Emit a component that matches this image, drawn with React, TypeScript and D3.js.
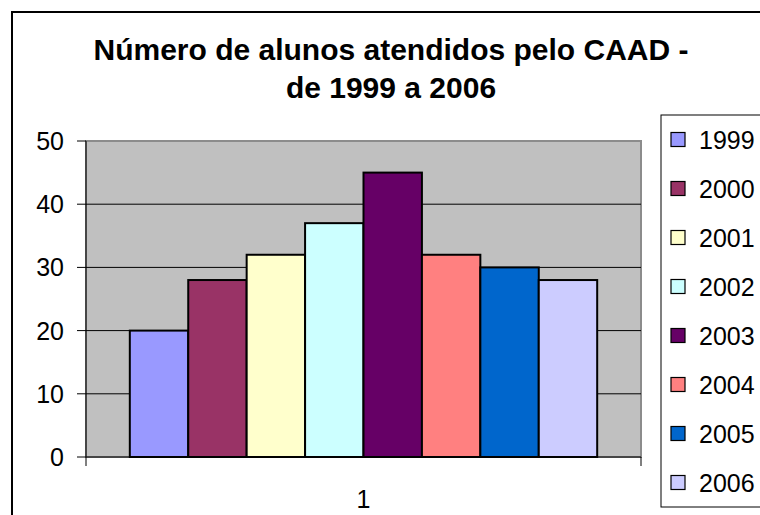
import * as d3 from 'd3'

// data
const categories = ['1']
const years = ['1999', '2000', '2001', '2002', '2003', '2004', '2005', '2006']
const students = [20, 28, 32, 37, 45, 32, 30, 28]
const colors = ['#9999FF', '#993366', '#FFFFCC', '#CCFFFF', '#660066', '#FF8080', '#0066CC', '#CCCCFF']
const yTicks = [0, 10, 20, 30, 40, 50]
const titleLines = ['Número de alunos atendidos pelo CAAD -', 'de 1999 a 2006']

const font = 'Arial, "Liberation Sans", sans-serif'

export default function App() {
  const width = 760,
    height = 515

  // plot area
  const plot = { left: 86, top: 141, right: 641, bottom: 457 }

  const y = d3.scaleLinear().domain([0, 50]).range([plot.bottom, plot.top])

  // excel style gap width of 150% -> 0.75 bar on each side
  const x0 = d3.scaleBand()
    .domain(categories)
    .range([plot.left, plot.right])
    .paddingInner(0)
    .paddingOuter(0.75 / years.length)

  const x1 = d3.scaleBand()
    .domain(years)
    .range([0, x0.bandwidth()])
    .padding(0)

  // legend rows
  const legend = d3.scaleBand().domain(years).range([115, 507])

  return (
    <svg width={width} height={height} style={{ position: 'absolute', left: 0, top: 0, background: '#fff' }}
      fontFamily={font}>
      {/* chart frame, cut off on the right and bottom */}
      <rect x={12} y={12} width={800} height={600} fill="#fff" stroke="#000" strokeWidth={2} />

      {titleLines.map((t, i) => (
        <text key={i} x={391} y={60 + i * 38} textAnchor="middle" fontSize={30} fontWeight="bold" fill="#000">
          {t}
        </text>
      ))}

      {/* plot background */}
      <rect x={plot.left} y={plot.top} width={plot.right - plot.left} height={plot.bottom - plot.top}
        fill="#C0C0C0" stroke="#8c8c8c" strokeWidth={2} />

      {/* gridlines */}
      {yTicks.filter(t => t > 0 && t < 50).map(t => (
        <line key={t} x1={plot.left} x2={plot.right} y1={y(t)} y2={y(t)} stroke="#000" strokeWidth={1} />
      ))}

      {/* bars */}
      {categories.map(c => (
        <g key={c} transform={`translate(${x0(c)},0)`}>
          {years.map((yr, i) => (
            <rect key={yr} x={x1(yr)} y={y(students[i])} width={x1.bandwidth()}
              height={y(0) - y(students[i])} fill={colors[i]} stroke="#000" strokeWidth={2} />
          ))}
        </g>
      ))}

      {/* y axis */}
      <line x1={plot.left} x2={plot.left} y1={plot.top} y2={plot.bottom + 9} stroke="#000" strokeWidth={1} />
      {yTicks.map(t => (
        <g key={t}>
          <line x1={plot.left - 9} x2={plot.left} y1={y(t)} y2={y(t)} stroke="#000" strokeWidth={1} />
          <text x={64} y={y(t)} dy="0.36em" textAnchor="end" fontSize={25} fill="#000">{t}</text>
        </g>
      ))}

      {/* x axis */}
      <line x1={plot.left} x2={plot.right} y1={plot.bottom} y2={plot.bottom} stroke="#000" strokeWidth={1} />
      <line x1={plot.right} x2={plot.right} y1={plot.bottom} y2={plot.bottom + 9} stroke="#000" strokeWidth={1} />
      {categories.map(c => (
        <text key={c} x={(x0(c) ?? 0) + x0.bandwidth() / 2} y={508} textAnchor="middle" fontSize={25} fill="#000">{c}</text>
      ))}

      {/* legend */}
      <rect x={661} y={115} width={200} height={392} fill="#fff" stroke="#000" strokeWidth={1} />
      {years.map((yr, i) => {
        const cy = (legend(yr) ?? 0) + legend.bandwidth() / 2
        return (
          <g key={yr}>
            <rect x={671} y={cy - 7} width={14} height={14} fill={colors[i]} stroke="#000" strokeWidth={1.2} />
            <text x={699} y={cy} dy="0.36em" fontSize={25} fill="#000">{yr}</text>
          </g>
        )
      })}
    </svg>
  )
}
